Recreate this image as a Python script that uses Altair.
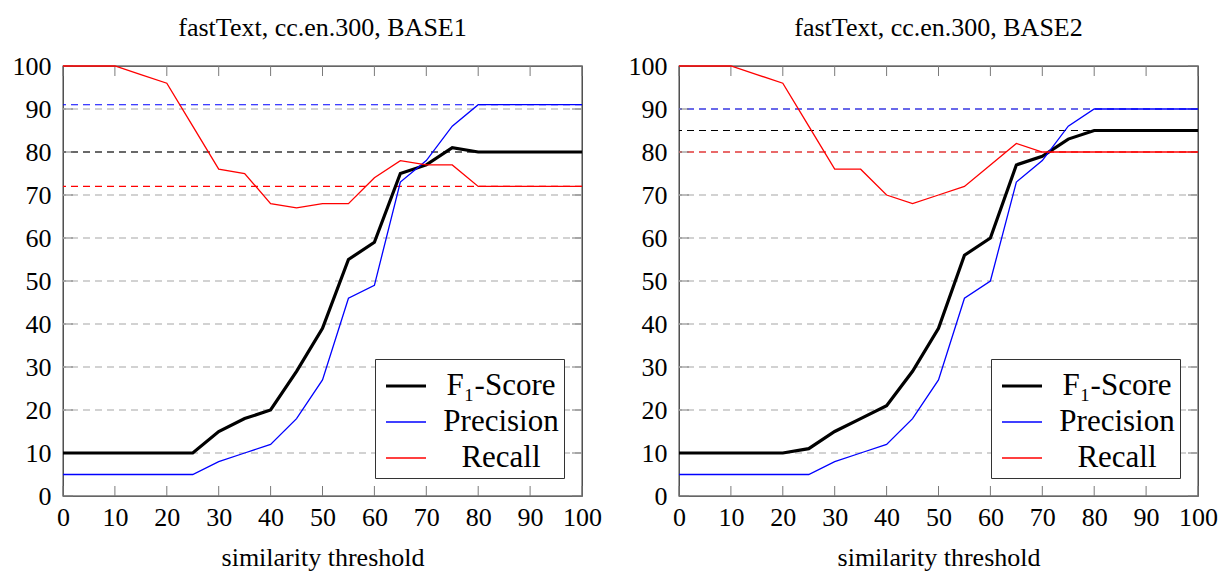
import altair as alt
import pandas as pd

# ---------------- data ----------------
thresholds = list(range(0, 101, 5))

f1_base1 = [10, 10, 10, 10, 10, 10, 15, 18, 20, 29, 39, 55, 59, 75, 77, 81, 80, 80, 80, 80, 80]
prec_base1 = [5, 5, 5, 5, 5, 5, 8, 10, 12, 18, 27, 46, 49, 73, 78, 86, 91, 91, 91, 91, 91]
rec_base1 = [100, 100, 100, 98, 96, 86, 76, 75, 68, 67, 68, 68, 74, 78, 77, 77, 72, 72, 72, 72, 72]
ref_base1 = [80, 91, 72]  # dashed baselines: F1, Precision, Recall

f1_base2 = [10, 10, 10, 10, 10, 11, 15, 18, 21, 29, 39, 56, 60, 77, 79, 83, 85, 85, 85, 85, 85]
prec_base2 = [5, 5, 5, 5, 5, 5, 8, 10, 12, 18, 27, 46, 50, 73, 78, 86, 90, 90, 90, 90, 90]
rec_base2 = [100, 100, 100, 98, 96, 86, 76, 76, 70, 68, 70, 72, 77, 82, 80, 80, 80, 80, 80, 80, 80]
ref_base2 = [85, 90, 80]

series = ["F\u2081-Score", "Precision", "Recall"]
colors = ["#000000", "#0000ff", "#ff0000"]
widths = [3.2, 1.3, 1.3]

grid_values = [10, 20, 30, 40, 50, 60, 70, 80, 90]
tick_values = [0, 10, 20, 30, 40, 50, 60, 70, 80, 90, 100]

titles = ["fastText, cc.en.300, BASE1", "fastText, cc.en.300, BASE2"]
x_title = "similarity threshold"

# ---------------- style ----------------
W, H = 519, 430
SERIF = "Liberation Serif"
TICK_LEN = 10

xs = alt.Scale(domain=[0, 100], nice=False, zero=False)
ys = alt.Scale(domain=[0, 100], nice=False, zero=False)
x_axis = alt.Axis(values=tick_values, tickSize=0, domain=False, grid=False,
                  labelPadding=8, titlePadding=14, labelOverlap=False, labelFlush=False)
y_axis = alt.Axis(values=tick_values, tickSize=0, domain=False, grid=False,
                  labelPadding=12, labelOverlap=False)


def X(field):
    return alt.X(field, scale=xs, axis=x_axis, title=x_title)


def Y(field):
    return alt.Y(field, scale=ys, axis=y_axis, title=None)


def panel(title, f1, prec, rec, refs):
    n = len(thresholds)
    df = pd.DataFrame({
        "t": thresholds * 3,
        "v": f1 + prec + rec,
        "s": [series[0]] * n + [series[1]] * n + [series[2]] * n,
    })
    grid_df = pd.DataFrame({"g": grid_values})
    tick_df = pd.DataFrame({"k": tick_values})

    grid = alt.Chart(grid_df).mark_rule(
        color="#c4c4c4", strokeDash=[7, 5], strokeWidth=1.3
    ).encode(y=Y("g:Q"))

    refs_layers = []
    for val, col in zip(refs, colors):
        refs_layers.append(
            alt.Chart(pd.DataFrame({"r": [val]})).mark_rule(
                color=col, strokeDash=[7, 5], strokeWidth=1.1
            ).encode(y=Y("r:Q"))
        )

    leg = alt.Legend(orient="bottom-right", offset=18)
    lines = alt.Chart(df).mark_line(strokeJoin="miter").encode(
        x=X("t:Q"),
        y=Y("v:Q"),
        color=alt.Color("s:N", scale=alt.Scale(domain=series, range=colors),
                        sort=series, title=None, legend=leg),
        strokeWidth=alt.StrokeWidth("s:N",
                                    scale=alt.Scale(type="ordinal", domain=series, range=widths),
                                    sort=series, title=None, legend=leg),
        detail="s:N",
    )

    tick_col = "#7a7a7a"
    top_ticks = alt.Chart(tick_df).mark_rule(color=tick_col, strokeWidth=1).encode(
        x=X("k:Q"), y=alt.value(0), y2=alt.value(TICK_LEN))
    bot_ticks = alt.Chart(tick_df).mark_rule(color=tick_col, strokeWidth=1).encode(
        x=X("k:Q"), y=alt.value(H), y2=alt.value(H - TICK_LEN))
    left_ticks = alt.Chart(tick_df).mark_rule(color=tick_col, strokeWidth=1).encode(
        y=Y("k:Q"), x=alt.value(0), x2=alt.value(TICK_LEN))
    right_ticks = alt.Chart(tick_df).mark_rule(color=tick_col, strokeWidth=1).encode(
        y=Y("k:Q"), x=alt.value(W), x2=alt.value(W - TICK_LEN))

    return alt.layer(
        grid, *refs_layers, top_ticks, bot_ticks, left_ticks, right_ticks, lines
    ).properties(
        width=W, height=H,
        title=alt.TitleParams(title, font=SERIF, fontSize=26, fontWeight="normal",
                              anchor="middle", offset=12, color="#000"),
    )


left = panel(titles[0], f1_base1, prec_base1, rec_base1, ref_base1)
right = panel(titles[1], f1_base2, prec_base2, rec_base2, ref_base2)

chart = alt.hconcat(left, right, spacing=97, bounds="flush").resolve_scale(
    color="independent", strokeWidth="independent"
).configure(
    padding={"left": 11, "top": 14, "right": 0, "bottom": 0},
).configure_view(
    stroke="#333333", strokeWidth=1.3,
).configure_axis(
    labelFont=SERIF, labelFontSize=26, labelColor="#000",
    titleFont=SERIF, titleFontSize=26, titleFontWeight="normal", titleColor="#000",
).configure_legend(
    labelFont=SERIF, labelFontSize=31, labelColor="#000", labelAlign="center",
    symbolType="stroke", symbolSize=1600, symbolStrokeWidth=1.3, symbolOffset=4,
    fillColor="#ffffff", strokeColor="#333333", padding=5,
    rowPadding=-4, labelOffset=73, cornerRadius=0,
).configure_line(strokeCap="butt")

chart.save("out.html", embed_options={"renderer": "svg", "actions": False})
